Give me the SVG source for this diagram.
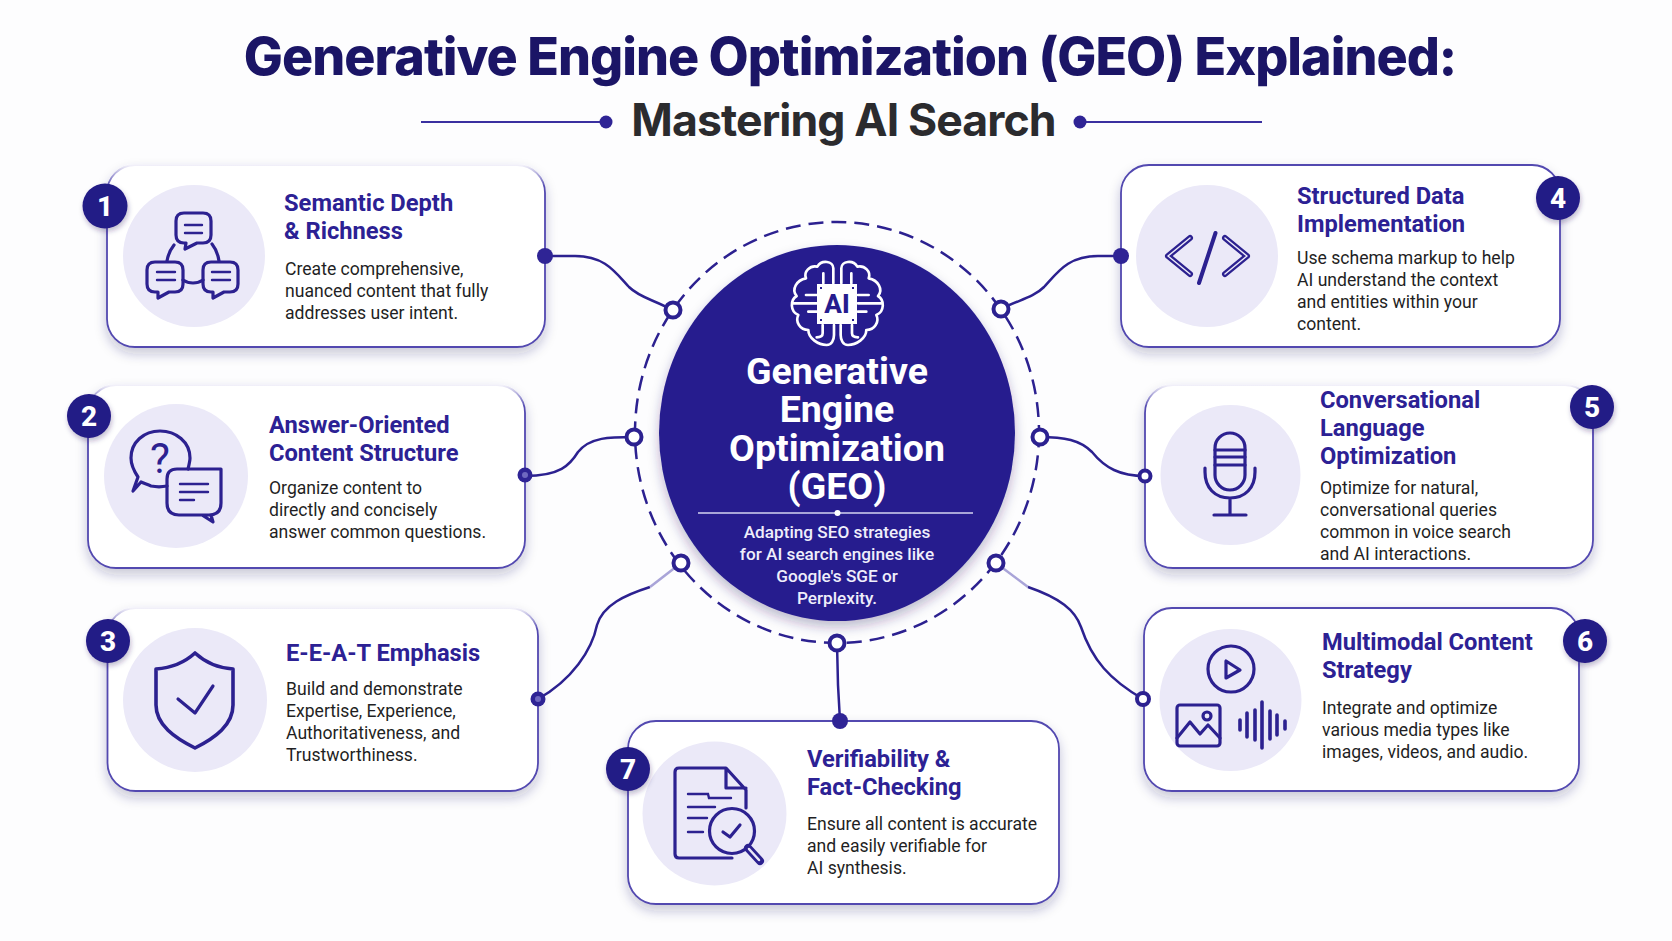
<svg xmlns="http://www.w3.org/2000/svg" xmlns:xlink="http://www.w3.org/1999/xlink" width="1672" height="941" viewBox="0 0 1672 941">
<style>
text{font-family:Roboto,"Liberation Sans",sans-serif}
.h1{font-family:Inter,Roboto,sans-serif;font-size:52px;font-weight:800;letter-spacing:-1px;fill:#1b1566;text-anchor:middle}
.h2{font-family:Inter,Roboto,sans-serif;font-size:44.600px;font-weight:700;letter-spacing:-.9px;fill:#2b2b2e;text-anchor:middle}
.t{font-size:23.700px;font-weight:700;fill:#2c2194}
.b{font-size:17.600px;font-weight:400;fill:#1f1f24}
.n{font-size:28px;font-weight:800;fill:#fff;text-anchor:middle}
.c1{font-size:37.500px;font-weight:700;fill:#fff;text-anchor:middle}
.c2{font-size:17.200px;font-weight:500;fill:#efeefb;text-anchor:middle}
.card{fill:#fff;stroke:#5248b0;stroke-width:1.800;filter:url(#sh)}
.soft{stroke:url(#softTop)}
.disc{fill:#ebe9f8}
.badge{fill:#241a86;filter:url(#sh2)}
.ic{fill:none;stroke:#2c2190;stroke-width:3.200;stroke-linecap:round;stroke-linejoin:round}
.ln{fill:none;stroke:#2c2190;stroke-width:2.400;stroke-linecap:round}
.rn{fill:#fff;stroke:#2c2190;stroke-width:4}
.dot{fill:#2f2495}
.br{fill:none;stroke:#fff;stroke-width:8;stroke-linecap:round;stroke-linejoin:round}
</style>
<defs>
<filter id="sh" x="-10%" y="-10%" width="120%" height="125%"><feDropShadow dx="0" dy="6" stdDeviation="6" flood-color="#2a2060" flood-opacity=".24"/></filter>
<filter id="sh2" x="-30%" y="-30%" width="160%" height="160%"><feDropShadow dx="1" dy="3" stdDeviation="2.500" flood-color="#2a2060" flood-opacity=".3"/></filter>
<filter id="sh3" x="-10%" y="-10%" width="120%" height="120%"><feDropShadow dx="0" dy="6" stdDeviation="6" flood-color="#2a2060" flood-opacity=".3"/></filter>
<linearGradient id="softTop" x1="0" y1="0" x2="0" y2="1"><stop offset="0" stop-color="#f4f3fa"/><stop offset=".12" stop-color="#5248b0"/></linearGradient>
<g id="brainHalf">
<path class="br" d="M160 100V55C160 33 125 28 112 50C90 45 70 65 78 85C50 90 33 118 50 138C30 150 30 185 55 195C45 215 60 240 85 240C85 265 115 285 140 285C155 285 162 270 162 255V225"/>
<path class="br" d="M110 135H78M110 160H40M110 185H85M130 100V70M128 225V250C128 258 120 262 110 262"/>
</g>
</defs>
<rect width="1672" height="941" fill="#fdfdfe"/>
<g id="title">
<text class="h1" x="850" y="75">Generative Engine Optimization (GEO) Explained:</text>
<text class="h2" x="843.500" y="136">Mastering AI Search</text>
<path d="M421 122H600M1080 122H1262" stroke="#3a30a0" stroke-width="2" fill="none"/>
<circle class="dot" cx="606" cy="122" r="6.500"/><circle class="dot" cx="1080" cy="122" r="6.500"/>
</g>
<g id="node-1">
<rect class="card soft" x="107" y="165" width="438" height="182" rx="28"/>
<circle class="disc" cx="194" cy="256" r="71"/>
<path class="ic" d="M174 245C170 250 168 255 167 261M212 244C216 249 218 254 219 261M183 280C189 284 197 284 203 280"/>
<path class="ic" d="M184 213H203Q211 213 211 221V235Q211 243 203 243H197L185 249L186 243H184Q176 243 176 235V221Q176 213 184 213Z"/>
<path class="ic" d="M155 262H175Q183 262 183 270V284Q183 292 175 292H169L158 298L158 292H155Q147 292 147 284V270Q147 262 155 262Z"/>
<path class="ic" d="M211 262H230Q238 262 238 270V284Q238 292 230 292H224L213 298L213 292H211Q203 292 203 284V270Q203 262 211 262Z"/>
<path class="ln" d="M185 225H202M185 233H202M157 272H175M157 280H175M212 272H230M212 280H230"/>
<text class="t" x="284" y="211">Semantic Depth</text><text class="t" x="284" y="239">&amp; Richness</text>
<text class="b" x="285" y="275">Create comprehensive,</text><text class="b" x="285" y="297">nuanced content that fully</text><text class="b" x="285" y="319">addresses user intent.</text>
<circle class="badge" cx="105" cy="206" r="22.500"/><text class="n" x="105" y="216">1</text>
</g>
<g id="node-2">
<rect class="card soft" x="88" y="385" width="437" height="183" rx="28"/>
<circle class="disc" cx="176" cy="476" r="72"/>
<path class="ic" d="M167 486C162 487 156 487 151 486C146 484 143 483 141 482L133 491L138 477C134 471 131 465 131 458C131 442 144 431 160 431C176 431 190 442 190 458C190 461 189 465 188 469"/>
<path class="ic" d="M177 469H221V503Q221 515 209 515H202L213 522L211 515H179Q167 515 167 503V479Q167 469 177 469Z"/>
<text x="160" y="473" font-size="42" font-weight="400" text-anchor="middle" fill="#2c2190">?</text>
<path class="ln" d="M180 484H208M180 492H208M180 500H194"/>
<text class="t" x="269" y="433">Answer-Oriented</text><text class="t" x="269" y="461">Content Structure</text>
<text class="b" x="269" y="494">Organize content to</text><text class="b" x="269" y="516">directly and concisely</text><text class="b" x="269" y="538">answer common questions.</text>
<circle class="badge" cx="89" cy="416" r="22"/><text class="n" x="89" y="426">2</text>
</g>
<g id="node-3">
<rect class="card soft" x="107.500" y="608" width="430.500" height="183" rx="28"/>
<circle class="disc" cx="195" cy="700" r="72"/>
<path class="ic" style="stroke-width:3.600" d="M195 653C183 664 170 668 156 669V705C156 725 175 738 195 748C215 738 233 725 233 705V669C219 668 207 664 195 653Z"/>
<path class="ic" d="M178 699L195 713L213 686"/>
<text class="t" x="286" y="661">E-E-A-T Emphasis</text>
<text class="b" x="286" y="695">Build and demonstrate</text><text class="b" x="286" y="717">Expertise, Experience,</text><text class="b" x="286" y="739">Authoritativeness, and</text><text class="b" x="286" y="761">Trustworthiness.</text>
<circle class="badge" cx="108" cy="641" r="22"/><text class="n" x="108" y="651">3</text>
</g>
<g id="node-4">
<rect class="card" x="1121" y="165" width="439" height="182" rx="28"/>
<circle class="disc" cx="1207" cy="256" r="71"/>
<path class="ic" style="stroke-width:6" d="M1190 238L1168 256L1190 274M1225 238L1247 256L1225 274"/>
<path class="ic" style="stroke:#ebe9f8;stroke-width:1.500" d="M1190 238L1168 256L1190 274M1225 238L1247 256L1225 274"/>
<path class="ic" style="stroke-width:4" d="M1215.500 233L1199 283"/>
<text class="t" x="1297" y="204">Structured Data</text><text class="t" x="1297" y="232">Implementation</text>
<text class="b" x="1297" y="264">Use schema markup to help</text><text class="b" x="1297" y="286">AI understand the context</text><text class="b" x="1297" y="308">and entities within your</text><text class="b" x="1297" y="330">content.</text>
<circle class="badge" cx="1558" cy="198" r="22"/><text class="n" x="1558" y="208">4</text>
</g>
<g id="node-5">
<rect class="card soft" x="1145" y="385" width="448" height="183" rx="28"/>
<circle class="disc" cx="1230.500" cy="475" r="70"/>
<rect class="ic" x="1215" y="433" width="30" height="57" rx="15"/>
<path class="ic" d="M1205 468V472C1205 488 1215 498 1230 498C1245 498 1255 488 1255 472V468M1230 498V515M1214 515H1246M1215 450H1245M1215 457H1245M1215 465H1245"/>
<text class="t" x="1320" y="408">Conversational</text><text class="t" x="1320" y="436">Language</text><text class="t" x="1320" y="464">Optimization</text>
<text class="b" x="1320" y="494">Optimize for natural,</text><text class="b" x="1320" y="516">conversational queries</text><text class="b" x="1320" y="538">common in voice search</text><text class="b" x="1320" y="560">and AI interactions.</text>
<circle class="badge" cx="1592" cy="407" r="22"/><text class="n" x="1592" y="417">5</text>
</g>
<g id="node-6">
<rect class="card" x="1144" y="608" width="435" height="183" rx="28"/>
<circle class="disc" cx="1230.500" cy="700" r="71"/>
<circle class="ic" cx="1231" cy="669" r="23"/>
<path class="ic" d="M1226 661V678L1240 670Z"/>
<rect class="ic" x="1177" y="705" width="43" height="41" rx="3"/>
<path class="ic" d="M1177 738L1190 722L1200 734L1208 725L1220 738"/>
<circle class="ic" cx="1207" cy="716" r="4"/>
<path class="ic" style="stroke-width:3.600" d="M1240 720V730M1247 713V737M1255 710V740M1262 702V748M1270 711V739M1277 715V735M1285 721V729"/>
<text class="t" x="1322" y="650">Multimodal Content</text><text class="t" x="1322" y="678">Strategy</text>
<text class="b" x="1322" y="714">Integrate and optimize</text><text class="b" x="1322" y="736">various media types like</text><text class="b" x="1322" y="758">images, videos, and audio.</text>
<circle class="badge" cx="1585" cy="641" r="22"/><text class="n" x="1585" y="651">6</text>
</g>
<g id="node-7">
<rect class="card" x="628" y="721" width="431" height="183" rx="28"/>
<circle class="disc" cx="714.500" cy="813.500" r="72"/>
<path class="ic" d="M746 808V790L726 768H679Q675 768 675 772V854Q675 858 679 858H732M726 768V788H746"/>
<path class="ln" d="M688 794H708L709 798H731M688 807H715M688 818H707M688 832H703"/>
<circle class="ic" style="fill:#ebe9f8" cx="732" cy="831" r="22.500"/>
<path class="ic" d="M723 832L730 837L740 825"/>
<path class="ic" style="stroke-width:8" d="M748 848L760 861"/>
<path class="ic" style="stroke:#ebe9f8;stroke-width:2.500" d="M749 849L759 860"/>
<text class="t" x="807" y="767">Verifiability &amp;</text><text class="t" x="807" y="795">Fact-Checking</text>
<text class="b" x="807" y="830">Ensure all content is accurate</text><text class="b" x="807" y="852">and easily verifiable for</text><text class="b" x="807" y="874">AI synthesis.</text>
<circle class="badge" cx="628" cy="769" r="22"/><text class="n" x="628" y="779">7</text>
</g>
<g id="connectors" fill="none" stroke="#2c2190" stroke-width="2.500">
<ellipse cx="837" cy="432.500" rx="202" ry="210.500" stroke-dasharray="15 8"/>
<path d="M545 256H575C605 256 615 272 629 287C640 298 655 300 672 310"/>
<path d="M525 476C560 476 570 465 578 452C590 437 610 437 634 437"/>
<path d="M538 699C572 680 592 650 597 625C603 605 625 595 650 587"/>
<path d="M650 587L681 563" stroke="#a9a4d8"/>
<path d="M1121 256H1098C1068 256 1058 272 1044 287C1033 298 1018 300 1001 309"/>
<path d="M1039 437C1065 437 1080 440 1092 452C1105 468 1120 476 1145 476"/>
<path d="M996 563L1028 587" stroke="#a9a4d8"/>
<path d="M1028 587C1060 598 1075 610 1081 627C1092 660 1110 680 1143 699"/>
<path d="M837 643L838 685L840 721"/>
<g stroke="none">
<circle class="dot" cx="545" cy="256" r="8"/>
<circle class="dot" cx="525" cy="475" r="7.500"/><circle cx="525" cy="475" r="3" fill="#6f68c0"/>
<circle class="dot" cx="538" cy="699" r="7.500"/><circle cx="538" cy="699" r="3" fill="#6f68c0"/>
<circle class="dot" cx="840" cy="721" r="8"/>
<circle class="dot" cx="1121" cy="256" r="8"/>
</g>
<circle class="rn" cx="1145" cy="476" r="5.500"/>
<circle class="rn" cx="1143" cy="699" r="6"/>
<circle class="rn" cx="673" cy="310" r="7.500"/>
<circle class="rn" cx="634" cy="437" r="7.500"/>
<circle class="rn" cx="681" cy="563" r="7.500"/>
<circle class="rn" cx="837" cy="643" r="7.500"/>
<circle class="rn" cx="996" cy="563" r="7.500"/>
<circle class="rn" cx="1040" cy="437" r="7.500"/>
<circle class="rn" cx="1001" cy="309" r="7.500"/>
</g>
<g id="center">
<ellipse cx="837" cy="433" rx="178" ry="188" fill="#251c8e" filter="url(#sh3)"/>
<g transform="translate(780,250) scale(.3333)"><use href="#brainHalf"/></g>
<g transform="translate(780,250) scale(-.3333,.3333) translate(-344,0)"><use href="#brainHalf"/></g>
<rect x="817" y="284" width="40" height="40" fill="#fff"/>
<path d="M820 287h2v2h-2zM852 287h2v2h-2zM820 319h2v2h-2zM852 319h2v2h-2z" fill="#251c8e"/>
<text x="837" y="313" font-size="26" font-weight="800" fill="#251c8e" text-anchor="middle">AI</text>
<text class="c1" x="837" y="384">Generative</text><text class="c1" x="837" y="422">Engine</text><text class="c1" x="837" y="461">Optimization</text><text class="c1" x="837" y="499">(GEO)</text>
<path d="M698 513H973" stroke="#d5d3f0" stroke-width="1.500"/>
<circle cx="837.500" cy="513" r="3" fill="#fff"/>
<text class="c2" x="837" y="538">Adapting SEO strategies</text><text class="c2" x="837" y="560">for AI search engines like</text><text class="c2" x="837" y="582">Google's SGE or</text><text class="c2" x="837" y="604">Perplexity.</text>
</g>
</svg>
